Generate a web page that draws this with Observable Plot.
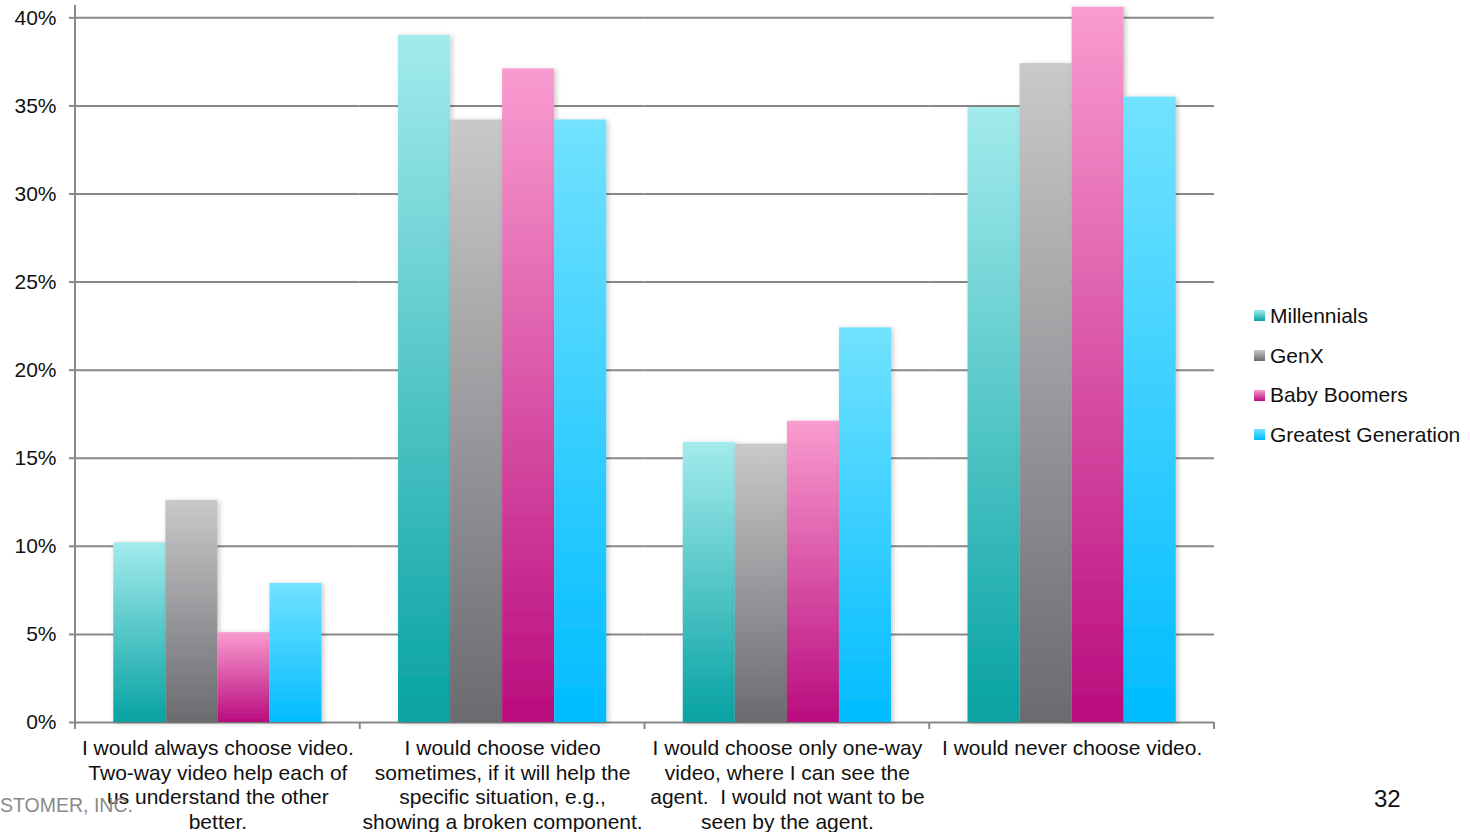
<!DOCTYPE html>
<html>
<head>
<meta charset="utf-8">
<script src="https://cdn.jsdelivr.net/npm/d3@7"></script>
<script src="https://cdn.jsdelivr.net/npm/@observablehq/plot@0.6"></script>
<style>
  html, body { margin: 0; padding: 0; background: #fff; }
  #wrap { position: relative; width: 1470px; height: 832px; overflow: hidden; font-family: "Liberation Sans", Arial, sans-serif; }
  #chart { position: absolute; left: 0; top: 0; }
  #legend { position: absolute; left: 1254px; top: 296px; }
  .row { display: flex; align-items: center; height: 39.7px; font-size: 21px; color: #111; }
  .sw { width: 11px; height: 11px; margin-right: 5px; }
  #footer { position: absolute; left: 0; top: 794px; font-size: 19.5px; color: #8a8a8a; }
  #page { position: absolute; left: 1374px; top: 785px; font-size: 24px; color: #111; }
</style>
</head>
<body>
<div id="wrap">
  <div id="chart"></div>
  <div id="legend"></div>
  <div id="footer">STOMER, INC.</div>
  <div id="page">32</div>
</div>
<script>
const categories = [
  "I would always choose video.\nTwo-way video help each of\nus understand the other\nbetter.",
  "I would choose video\nsometimes, if it will help the\nspecific situation, e.g.,\nshowing a broken component.",
  "I would choose only one-way\nvideo, where I can see the\nagent.  I would not want to be\nseen by the agent.",
  "I would never choose video."
];
const series = ["Millennials", "GenX", "Baby Boomers", "Greatest Generation"];
const millennials = [10.2, 39.0, 15.9, 34.9];
const genX = [12.6, 34.2, 15.8, 37.4];
const babyBoomers = [5.1, 37.1, 17.1, 40.6];
const greatestGeneration = [7.9, 34.2, 22.4, 35.5];
const yTicks = [0, 5, 10, 15, 20, 25, 30, 35, 40];

const seriesValues = [millennials, genX, babyBoomers, greatestGeneration];
const gradTop = ["#a3ebec", "#c9c9cb", "#f99ccf", "#72e2ff"];
const gradBottom = ["#07a2a3", "#6a6b6f", "#b90c7e", "#00bcff"];

const data = [];
series.forEach((s, i) => categories.forEach((c, j) => data.push({category: c, series: s, value: seriesValues[i][j]})));

const plot = Plot.plot({
  width: 1470,
  height: 832,
  marginLeft: 75,
  marginRight: 256,
  marginTop: 5,
  marginBottom: 110,
  style: {fontFamily: "Liberation Sans, Arial, sans-serif", fontSize: "21px", color: "#111", background: "transparent"},
  fx: {domain: categories, padding: 0, round: false, label: null},
  x: {domain: series, paddingInner: 0, paddingOuter: 0.735, round: false, axis: null},
  y: {domain: [0, 40.7], label: null},
  marks: [
    Plot.gridY(yTicks, {stroke: "#888", strokeOpacity: 1, strokeWidth: 2}),
    ...series.map((s, i) => Plot.barY(data.filter(d => d.series === s), {
      fx: "category", x: "series", y: "value", fill: `url(#grad${i})`, inset: 0
    })),
    Plot.axisY(yTicks, {tickFormat: d => d + "%", tickSize: 6, tickPadding: 13, stroke: "#888", strokeWidth: 2, fontSize: 21, label: null}),
    Plot.axisFx({anchor: "bottom", tickSize: 0, tickPadding: 15, lineHeight: 1.17, fontSize: 21, label: null})
  ]
});

const svg = d3.select(plot);
const defs = svg.insert("defs", ":first-child");
series.forEach((s, i) => {
  const g = defs.append("linearGradient").attr("id", `grad${i}`).attr("x1", 0).attr("y1", 0).attr("x2", 0).attr("y2", 1);
  g.append("stop").attr("offset", "0%").attr("stop-color", gradTop[i]);
  g.append("stop").attr("offset", "100%").attr("stop-color", gradBottom[i]);
});
const f = defs.append("filter").attr("id", "shadow").attr("x", "-20%").attr("y", "-5%").attr("width", "140%").attr("height", "110%");
f.append("feDropShadow").attr("dx", 2).attr("dy", 1).attr("stdDeviation", 2.5).attr("flood-color", "#000").attr("flood-opacity", 0.22);
svg.selectAll("g[aria-label='bar'] rect").attr("filter", "url(#shadow)");

const ys = plot.scale("y");
const fxs = plot.scale("fx");
const bw = fxs.bandwidth;
const y0 = ys.apply(0), yTop = ys.apply(40.7);
const axes = svg.append("g").attr("stroke", "#888").attr("stroke-width", 2);
const xLeft = fxs.apply(categories[0]);
axes.append("line").attr("x1", xLeft).attr("x2", xLeft).attr("y1", yTop).attr("y2", y0 + 1);
const bounds = categories.map(c => fxs.apply(c)).concat([fxs.apply(categories[categories.length - 1]) + bw]);
bounds.forEach(b => axes.append("line").attr("x1", b).attr("x2", b).attr("y1", y0).attr("y2", y0 + 7));

document.getElementById("chart").appendChild(plot);

const legend = d3.select("#legend");
series.forEach((s, i) => {
  const row = legend.append("div").attr("class", "row");
  row.append("div").attr("class", "sw").style("background", `linear-gradient(${gradTop[i]}, ${gradBottom[i]})`);
  row.append("span").text(s);
});
</script>
</body>
</html>
